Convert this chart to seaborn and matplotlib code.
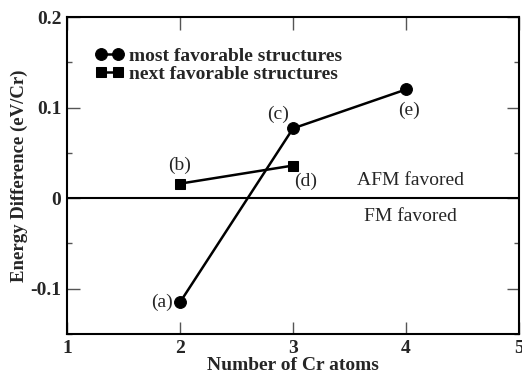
import numpy as np
import pandas as pd
import matplotlib
matplotlib.use("Agg")
import matplotlib.pyplot as plt
from matplotlib.ticker import FixedLocator
import seaborn as sns

# Energy difference E(AFM) - E(FM) per Cr atom
n_cr_most = [2, 3, 4]
energy_most = [-0.115, 0.077, 0.120]
labels_most = ["(a)", "(c)", "(e)"]

n_cr_next = [2, 3]
energy_next = [0.016, 0.036]
labels_next = ["(b)", "(d)"]

series_names = ["most favorable structures", "next favorable structures"]

sns.set_style("ticks")
plt.rcParams["font.family"] = ["Liberation Serif", "DejaVu Serif"]

fig = plt.figure(figsize=(5.22, 3.73), dpi=100)
ax = fig.add_axes([0.1284, 0.1046, 0.8659, 0.8498])

df_most = pd.DataFrame({"n": n_cr_most, "E": energy_most})
df_next = pd.DataFrame({"n": n_cr_next, "E": energy_next})

sns.lineplot(data=df_most, x="n", y="E", ax=ax, color="black", lw=1.8,
             marker="o", markersize=8.5, markeredgecolor="black",
             label=series_names[0])
sns.lineplot(data=df_next, x="n", y="E", ax=ax, color="black", lw=1.8,
             marker="s", markersize=6.5, markeredgecolor="black",
             label=series_names[1])

ax.axhline(0, color="black", lw=1.5)

# structure labels
ax.text(n_cr_most[0] - 0.06, energy_most[0], labels_most[0], fontsize=14,
        ha="right", va="center")
ax.text(n_cr_most[1] - 0.13, energy_most[1] + 0.015, labels_most[1], fontsize=14,
        ha="center", va="center")
ax.text(n_cr_most[2] + 0.03, energy_most[2] - 0.023, labels_most[2], fontsize=14,
        ha="center", va="center")
ax.text(n_cr_next[0], energy_next[0] + 0.02, labels_next[0], fontsize=14,
        ha="center", va="center")
ax.text(n_cr_next[1] + 0.11, energy_next[1] - 0.018, labels_next[1], fontsize=14,
        ha="center", va="center")

ax.text(4.04, 0.020, "AFM favored", fontsize=14, ha="center", va="center")
ax.text(4.04, -0.020, "FM favored", fontsize=14, ha="center", va="center")

ax.set_xlim(1, 5)
ax.set_ylim(-0.15, 0.2)
ax.xaxis.set_major_locator(FixedLocator([1, 2, 3, 4, 5]))
ax.set_xticklabels(["1", "2", "3", "4", "5"])
ax.yaxis.set_major_locator(FixedLocator([-0.1, 0, 0.1, 0.2]))
ax.set_yticklabels(["-0.1", "0", "0.1", "0.2"])
ax.yaxis.set_minor_locator(FixedLocator([-0.15, -0.05, 0.05, 0.15]))

ax.tick_params(which="major", direction="in", length=9, width=1.0,
               color="#555555", top=True, right=True, labelsize=14, pad=4)
ax.tick_params(which="minor", direction="in", length=3.5, width=1.0,
               color="#555555", left=True, right=True)
for lab in ax.get_xticklabels() + ax.get_yticklabels():
    lab.set_fontweight("bold")

for sp in ax.spines.values():
    sp.set_linewidth(1.5)
    sp.set_color("black")

ax.set_xlabel("Number of Cr atoms", fontsize=14, fontweight="bold", labelpad=0)
ax.set_ylabel("Energy Difference (eV/Cr)", fontsize=13.5, fontweight="bold", labelpad=1.5)

leg = ax.legend(loc="upper left", frameon=False, numpoints=2, handlelength=1.5,
                handletextpad=0.25, labelspacing=0.05, borderaxespad=0.0,
                bbox_to_anchor=(0.045, 0.93), prop={"weight": "bold", "size": 14})

fig.savefig("out.png", dpi=100)
